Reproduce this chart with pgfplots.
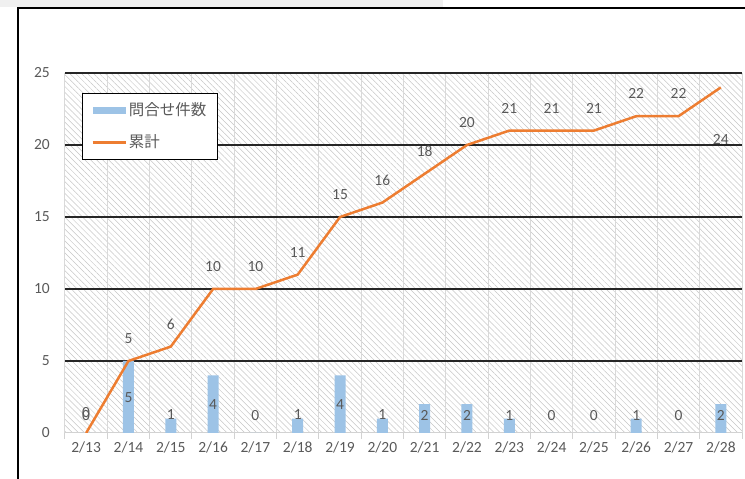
\documentclass[border=0pt]{standalone}
\usepackage{fontspec}
\setmainfont{Carlito}
\newfontfamily\cjk{Noto Sans CJK JP}
\usepackage{pgfplots}
\pgfplotsset{compat=1.18}
\usetikzlibrary{patterns.meta}
\definecolor{barblue}{HTML}{9DC3E6}
\definecolor{lineorange}{HTML}{ED7D31}
\definecolor{txt}{HTML}{595959}
\begin{document}
\fontsize{15}{18}\selectfont
\begin{tikzpicture}
\useasboundingbox (-65pt,-46pt) rectangle (680pt,433pt);
\fill[gray!12] (-65pt,433pt) rectangle (378pt,426pt);
\draw[black, line width=1.2pt] (-47pt,-60pt) -- (-47pt,425pt) -- (700pt,425pt);
\begin{axis}[
  at={(0pt,0pt)}, anchor=south west,
  scale only axis, width=677pt, height=360pt,
  xmin=-0.5, xmax=15.5, ymin=0, ymax=25,
  axis background/.style={pattern={Lines[angle=-45,distance=4.2pt,line width=0.5pt]}, pattern color=gray!45},
  axis x line*=bottom, axis y line*=left,
  x axis line style={draw=gray!35, line width=1pt, -},
  y axis line style={draw=none},
  xtick={0,...,15},
  xticklabels={2/13,2/14,2/15,2/16,2/17,2/18,2/19,2/20,2/21,2/22,2/23,2/24,2/25,2/26,2/27,2/28},
  minor xtick={-0.5,0.5,...,15.5},
  xminorgrids, minor grid style={gray!30, line width=1pt},
  tick align=outside,
  x tick style={draw=gray!35, line width=1pt},
  major x tick style={draw=none},
  minor tick length=6pt, major tick length=0pt,
  ytick={5,10,...,25}, extra y ticks={0}, extra y tick style={grid=none},
  ymajorgrids, major grid style={black!85, line width=1.2pt},
  y tick style={draw=none},
  ticklabel style={text=txt, font=\fontsize{15.5}{18}\selectfont},
  yticklabel style={xshift=-10pt},
  xticklabel style={yshift=-4pt},
  /pgf/number format/assume math mode=true,
  legend style={at={(0.025,0.944)}, anchor=north west, draw=black, line width=0.9pt, fill=white,
    font=\cjk\fontsize{15.5}{18}\selectfont, text=txt, row sep=13pt, inner xsep=9pt, inner ysep=7pt},
  legend cell align=left,
]
\addplot[ybar, bar width=11pt, fill=barblue, draw=none,
  legend image code/.code={\fill[barblue] (0pt,-3.5pt) rectangle (33pt,3.5pt);}]
  coordinates {(0,0) (1,5) (2,1) (3,4) (4,0) (5,1) (6,4) (7,1) (8,2) (9,2) (10,1) (11,0) (12,0) (13,1) (14,0) (15,2)};
\addlegendentry{問合せ件数}
\addplot[lineorange, line width=2.5pt, mark=none,
  legend image code/.code={\draw[lineorange, line width=2.5pt] (0pt,0pt) -- (33pt,0pt);}]
  coordinates {(0,0) (1,5) (2,6) (3,10) (4,10) (5,11) (6,15) (7,16) (8,18) (9,20) (10,21) (11,21) (12,21) (13,22) (14,22) (15,24)};
\addlegendentry{累計}
\addplot[draw=none, forget plot, point meta=explicit symbolic,
  nodes near coords={\pgfplotspointmeta}, nodes near coords style={text=txt, anchor=center, font=\fontsize{15.5}{18}\selectfont}]
  coordinates {(0,1.2)[0] (1,2.45)[5] (2,1.25)[1] (3,2.0)[4] (4,1.2)[0] (5,1.25)[1] (6,2.0)[4] (7,1.25)[1] (8,1.2)[2] (9,1.2)[2] (10,1.2)[1] (11,1.2)[0] (12,1.2)[0] (13,1.2)[1] (14,1.2)[0] (15,1.2)[2]};
\addplot[draw=none, forget plot, point meta=explicit symbolic,
  nodes near coords={\pgfplotspointmeta}, nodes near coords style={text=txt, anchor=center, font=\fontsize{15.5}{18}\selectfont}]
  coordinates {(0,1.45)[0] (1,6.55)[5] (2,7.55)[6] (3,11.55)[10] (4,11.55)[10] (5,12.55)[11] (6,16.55)[15] (7,17.55)[16] (8,19.55)[18] (9,21.55)[20] (10,22.55)[21] (11,22.55)[21] (12,22.55)[21] (13,23.55)[22] (14,23.55)[22] (15,20.35)[24]};
\end{axis}
\end{tikzpicture}
\end{document}
